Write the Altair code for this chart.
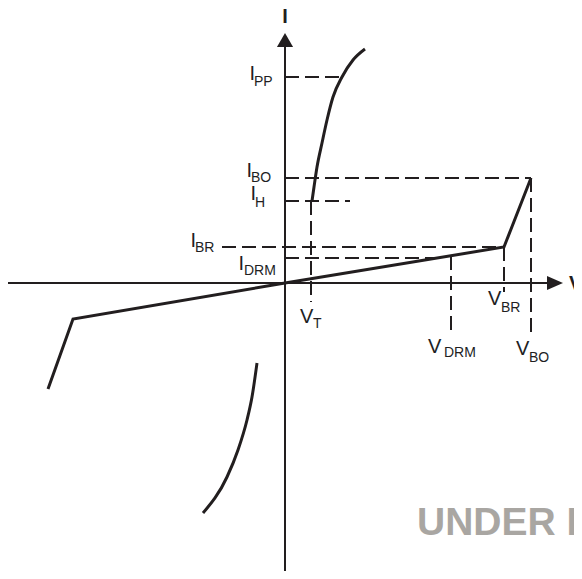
import altair as alt
import pandas as pd

# ---- drawing units: V to the right, I upward, origin where the axes cross ----
# main off-state / breakdown characteristic (solid)
main_v = [-237, -212, 0, 219, 246]
main_i = [-106, -36, 0, 36, 105]
# on-state branch, first quadrant (solid curve)
on_v = [27, 29, 32, 37, 42, 48, 57, 68, 80]
on_i = [82, 96, 116, 140, 163, 186, 206, 223, 234]
# on-state branch, third quadrant (solid curve)
neg_v = [-28, -33, -38, -47, -58, -82]
neg_i = [-80, -114, -137, -167, -194, -230]

# axes
x_axis_v = [-277, 270]
y_axis_i = [-288, 243]

# dashed guide lines
guide_v1 = [0, 0, 0, -63, 0, 26, 166, 219, 246]
guide_i1 = [206, 105, 82, 36, 25, 82, 27, 36, 105]
guide_v2 = [58, 246, 65, 219, 152, 26, 166, 219, 246]
guide_i2 = [206, 105, 82, 36, 25, -19, -50, -9, -50]

# labels (main letter + subscript)
main_text = ["I", "I", "I", "I", "I", "V", "V", "V", "V"]
main_v_pos = [-35.5, -38.5, -34.5, -94.5, -46.5, 15, 143, 203, 231]
main_i_pos = [203, 106, 83, 36, 13, -40, -70, -22, -72]
sub_text = ["PP", "BO", "H", "BR", "DRM", "T", "DRM", "BR", "BO"]
sub_v_pos = [-31, -34, -30, -90, -41, 28, 159, 216, 244]
sub_i_pos = [197, 101, 76, 31, 8, -45, -74, -29, -79]

axis_label_text = ["I", "V"]
axis_label_v = [0, 284]
axis_label_i = [260, -7]

watermark = "UNDER DEVELOPMENT"
watermark_v = 132
watermark_i = -252

W, H = 566, 563
xs = alt.Scale(domain=[-277, 289], nice=False, zero=False)
ys = alt.Scale(domain=[-288, 275], nice=False, zero=False)
INK = "#221e1f"


def X(f="v"):
    return alt.X(f"{f}:Q", scale=xs, axis=None)


def Y(f="i"):
    return alt.Y(f"{f}:Q", scale=ys, axis=None)


rows = []
for name, vs, is_ in [("main", main_v, main_i), ("on", on_v, on_i), ("neg", neg_v, neg_i)]:
    for k, (v, i) in enumerate(zip(vs, is_)):
        rows.append({"seg": name, "ord": k, "v": v, "i": i})
curves = pd.DataFrame(rows)

main_layer = alt.Chart(curves[curves.seg == "main"]).mark_line(
    color=INK, strokeWidth=3, interpolate="linear", strokeJoin="miter"
).encode(x=X(), y=Y(), order="ord:Q")

curved = curves[curves.seg != "main"]
curve_layer = alt.Chart(curved).mark_line(
    color=INK, strokeWidth=3, interpolate="monotone", strokeCap="butt"
).encode(x=X(), y=Y(), detail="seg:N", order="ord:Q")

axes = pd.DataFrame({
    "v": [x_axis_v[0], 0], "v2": [x_axis_v[1], 0],
    "i": [0, y_axis_i[0]], "i2": [0, y_axis_i[1]],
})
axis_layer = alt.Chart(axes).mark_rule(color=INK, strokeWidth=2).encode(
    x=X(), x2="v2:Q", y=Y(), y2="i2:Q"
)

arrows_up = alt.Chart(pd.DataFrame({"v": [0], "i": [243]})).mark_point(
    shape="M0,-1L1.15,1L-1.15,1Z", filled=True, opacity=1, color=INK, size=196, strokeWidth=0
).encode(x=X(), y=Y())
arrows_right = alt.Chart(pd.DataFrame({"v": [270], "i": [0]})).mark_point(
    shape="M1,0L-1,0.875L-1,-0.875Z", filled=True, opacity=1, color=INK, size=256, strokeWidth=0
).encode(x=X(), y=Y())

guides = pd.DataFrame({"v": guide_v1, "i": guide_i1, "v2": guide_v2, "i2": guide_i2})
guide_layer = alt.Chart(guides).mark_rule(
    color=INK, strokeWidth=2, strokeDash=[14, 6]
).encode(x=X(), x2="v2:Q", y=Y(), y2="i2:Q")

FONT = "Liberation Sans"
mains = pd.DataFrame({"t": main_text, "v": main_v_pos, "i": main_i_pos})
main_txt = alt.Chart(mains).mark_text(
    font=FONT, fontSize=20, align="left", baseline="alphabetic", color=INK
).encode(x=X(), y=Y(), text="t:N")

subs = pd.DataFrame({"t": sub_text, "v": sub_v_pos, "i": sub_i_pos})
sub_txt = alt.Chart(subs).mark_text(
    font=FONT, fontSize=14, align="left", baseline="alphabetic", color=INK
).encode(x=X(), y=Y(), text="t:N")

axl = pd.DataFrame({"t": axis_label_text, "v": axis_label_v, "i": axis_label_i})
axl_i = alt.Chart(axl.iloc[[0]]).mark_text(
    font=FONT, fontSize=20, fontWeight="bold", align="center", baseline="alphabetic", color=INK
).encode(x=X(), y=Y(), text="t:N")
axl_v = alt.Chart(axl.iloc[[1]]).mark_text(
    font=FONT, fontSize=20, fontWeight="bold", align="left", baseline="alphabetic", color=INK
).encode(x=X(), y=Y(), text="t:N")

wm = alt.Chart(pd.DataFrame({"t": [watermark], "v": [watermark_v], "i": [watermark_i]})).mark_text(
    font=FONT, fontSize=39, fontWeight="bold", align="left", baseline="alphabetic", color="#a9a6a2"
).encode(x=X(), y=Y(), text="t:N")

chart = alt.layer(
    wm, guide_layer, axis_layer, arrows_up, arrows_right, main_layer, curve_layer,
    main_txt, sub_txt, axl_i, axl_v
).properties(
    width=W, height=H, autosize=alt.AutoSizeParams(type="none"), padding=0
).configure_view(stroke=None)

chart.save("out.html", embed_options={"renderer": "svg", "actions": False})
